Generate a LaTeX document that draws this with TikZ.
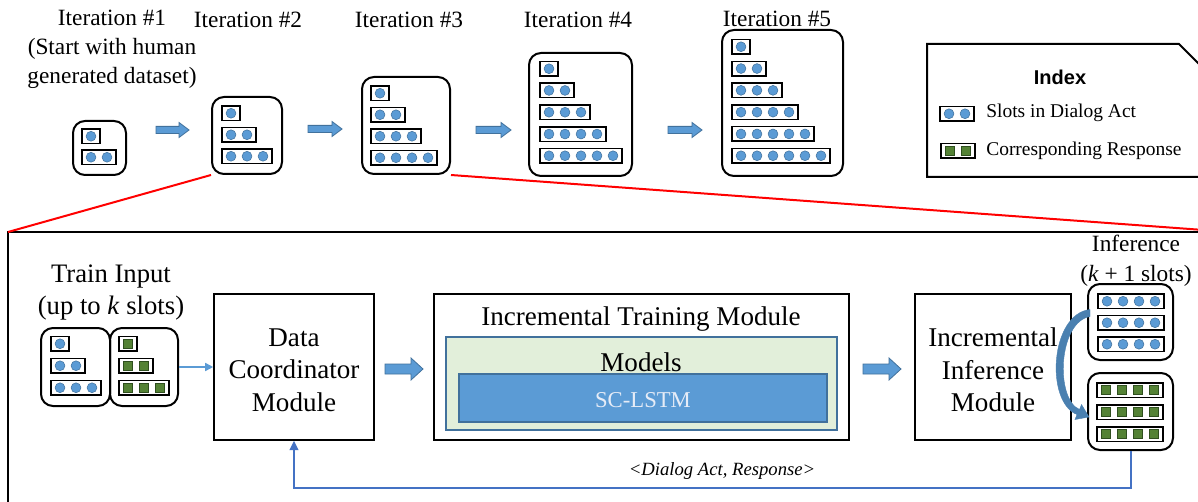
\documentclass[tikz,border=0pt]{standalone}
\usepackage{fontspec}
\setmainfont{Liberation Serif}
\newfontfamily\arialfont{Liberation Sans}
\usetikzlibrary{fit,arrows.meta,calc}

\definecolor{slotblue}{HTML}{5B9BD5}
\definecolor{slotedge}{HTML}{41719C}
\definecolor{respgreen}{HTML}{548235}
\definecolor{respedge}{HTML}{2F4F1F}
\definecolor{modelgreen}{HTML}{E2EFDA}
\definecolor{loopblue}{HTML}{4472C4}
\definecolor{sctext}{HTML}{E6ECF7}
\definecolor{zoomred}{HTML}{FF0000}

\tikzset{
  rbox/.style={draw=black, line width=1.5pt, rounded corners=9pt, inner sep=0pt},
  rowbox/.style={draw=black, line width=1.1pt},
  slotdot/.style={fill=slotblue, draw=slotedge, line width=0.4pt},
  slotsq/.style={fill=respgreen, draw=respedge, line width=0.4pt},
  modbox/.style={draw=black, line width=1.2pt, inner sep=0pt},
  blockarr/.style={fill=slotblue, draw=slotedge, line width=0.6pt},
  toplabel/.style={font=\fontsize{17.5}{21.8}\selectfont, inner sep=0pt, align=center},
  legtext/.style={font=\fontsize{14.6}{17}\selectfont, inner sep=0pt, anchor=west},
  bigtext/.style={font=\fontsize{20.3}{24.4}\selectfont, inner sep=0pt, align=center},
  zoomline/.style={draw=zoomred, line width=1.5pt},
  frameline/.style={draw=black, line width=1.5pt},
  thinarr/.style={draw=slotblue, line width=1.1pt, -{Triangle[length=6pt,width=6pt]}},
  loopline/.style={draw=loopblue, line width=1.5pt, -{Triangle[length=7pt,width=6.5pt]}},
  curvearr/.style={fill=slotedge!65!slotblue, draw=slotedge!65!slotblue, line width=0.3pt},
}

% a framed row of n blue slot dots, top-left corner at (x,y)
\newcommand\dotrow[3]{%
  \draw[rowbox] (#1,#2) rectangle ++({16*#3+2},14.5);
  \foreach \i in {1,...,#3}{\draw[slotdot] ({#1+9+16*(\i-1)},{#2+7.25}) circle[radius=3.7pt];}%
}
% a framed row of n green response squares
\newcommand\sqrow[3]{%
  \draw[rowbox] (#1,#2) rectangle ++({16*#3+2},14.5);
  \foreach \i in {1,...,#3}{\draw[slotsq] ({#1+9+16*(\i-1)-4.5},{#2+7.25-4.5}) rectangle ++(9,9);}%
}
% block arrow pointing right: x1, x2, y, shaft half, head half, head length
\newcommand\blkarrow[6]{%
  \filldraw[blockarr] ({#1},{#3-#4}) -- ({#2-#6},{#3-#4}) -- ({#2-#6},{#3-#5}) -- ({#2},{#3})
    -- ({#2-#6},{#3+#5}) -- ({#2-#6},{#3+#4}) -- ({#1},{#3+#4}) -- cycle;%
}

\begin{document}
\begin{tikzpicture}[x=0.75pt, y=-0.75pt]
\useasboundingbox (0,0) rectangle (1198,502);
\clip (0,0) rectangle (1198,502);
\fill[white] (0,0) rectangle (1198,502);

% ---------- iteration labels ----------
\node[toplabel] (lab1) at (112,49.5) {Iteration \#1\\(Start with human\\generated dataset)};
\node[toplabel] (lab2) at (248,20) {Iteration \#2};
\node[toplabel] (lab3) at (409,20) {Iteration \#3};
\node[toplabel] (lab4) at (578,20) {Iteration \#4};
\node[toplabel] (lab5) at (777,19) {Iteration \#5};

% ---------- iteration boxes ----------
\node[rbox, fit={(73,121) (126,175)}] (it1) {};
\dotrow{82}{129}{1}
\dotrow{82}{150}{2}

\node[rbox, fit={(212,97) (282,174)}] (it2) {};
\dotrow{222}{106}{1}
\dotrow{222}{127.5}{2}
\dotrow{222}{149}{3}

\node[rbox, fit={(362,77) (450,174)}] (it3) {};
\dotrow{371}{86}{1}
\dotrow{371}{107.5}{2}
\dotrow{371}{129}{3}
\dotrow{371}{150.5}{4}

\node[rbox, fit={(529,53) (632,176)}] (it4) {};
\dotrow{540}{61.5}{1}
\dotrow{540}{83.2}{2}
\dotrow{540}{105}{3}
\dotrow{540}{126.8}{4}
\dotrow{540}{148.5}{5}

\node[rbox, fit={(722,30) (843,176)}] (it5) {};
\dotrow{732}{39.5}{1}
\dotrow{732}{61.3}{2}
\dotrow{732}{83.1}{3}
\dotrow{732}{104.9}{4}
\dotrow{732}{126.7}{5}
\dotrow{732}{148.5}{6}

% arrows between iterations
\blkarrow{156}{189}{130}{3.6}{7.5}{10}
\blkarrow{308}{342}{129}{3.6}{7.5}{10}
\blkarrow{476}{511}{130}{3.6}{7.5}{10}
\blkarrow{668}{702}{130}{3.6}{7.5}{10}

% ---------- index box ----------
\draw[frameline] (927,44) -- (1179,44) -- (1245,110) -- (1245,177) -- (927,177) -- cycle;
\node[font=\arialfont\bfseries\fontsize{15}{18}\selectfont, inner sep=0pt] (idxtitle) at (1060,77) {Index};
\dotrow{940}{106.5}{2}
\node[legtext] (legslots) at (986,113) {Slots in Dialog Act};
\sqrow{941}{143.5}{2}
\node[legtext] (legresp) at (986,151) {Corresponding Response};

% ---------- system frame and zoom lines ----------
\coordinate (frameNW) at (8,232);
\coordinate (frameNE) at (1231,232);
\draw[frameline] (frameNW) rectangle (1231,540);
\draw[zoomline] (it2.south west) -- (frameNW);
\draw[zoomline] (it3.south east) -- (frameNE);

% ---------- training input ----------
\node[bigtext, font=\fontsize{20}{24}\selectfont] (trainlab) at (111,293) {Train Input\\(up to \textit{k} slots)};
\node[rbox, fit={(41,328) (110,406)}] (tiL) {};
\dotrow{51}{336.5}{1}
\dotrow{51}{358.5}{2}
\dotrow{51}{380.5}{3}
\node[rbox, fit={(110,328) (178,406)}] (tiR) {};
\sqrow{119}{336.5}{1}
\sqrow{119}{358.5}{2}
\sqrow{119}{380.5}{3}

% ---------- modules ----------
\node[modbox, fit={(214,294) (374,440)}] (dc) {};
\node[bigtext] (dctext) at ($(dc.center)+(0,3)$) {Data\\Coordinator\\Module};
\node[modbox, fit={(434,294) (849,440)}] (itm) {};
\node[bigtext] (itmlab) at (641,319) {Incremental Training Module};
\node[draw=slotedge, fill=modelgreen, line width=1pt, inner sep=0pt, fit={(446,337) (837,430)}] (models) {};
\node[bigtext] (modlab) at (641,362) {Models};
\node[draw=slotedge, fill=slotblue, line width=1pt, inner sep=0pt, fit={(459,374) (827,422)}] (sclstm) {};
\node[text=sctext, font=\fontsize{17}{20}\selectfont, inner sep=0pt] (sctxt) at ($(sclstm.center)+(0,2)$) {SC-LSTM};
\node[modbox, fit={(915,294) (1071,440)}] (iim) {};
\node[bigtext] (iimtext) at ($(iim.center)+(0,3)$) {Incremental\\Inference\\Module};

\draw[thinarr] (tiR.east) -- (dc.west);
\blkarrow{385}{423}{369}{5}{11}{12}
\blkarrow{863}{901}{369}{5}{11}{12}

% ---------- inference output ----------
\node[toplabel, font=\fontsize{17.5}{22.5}\selectfont] (inflab) at (1136,261) {Inference\\(\textit{k} + 1 slots)};
\node[rbox, fit={(1088,284) (1173,360)}] (infA) {};
\dotrow{1098}{294}{4}
\dotrow{1098}{315.5}{4}
\dotrow{1098}{337}{4}
\node[rbox, fit={(1088,373) (1173,450)}] (infB) {};
\sqrow{1097}{383}{4}
\sqrow{1097}{405}{4}
\sqrow{1097}{427}{4}

% tapered curved arrow from the dialog acts down to the responses
\coordinate (cvs) at (1090,313);
\coordinate (cve) at (1089,417);
\filldraw[curvearr] (1090,309.5) .. controls (1050,314) and (1045,402) .. (1077,414.5)
  -- (1075,419.5) -- (cve) -- (1081.5,404.5) -- (1079.5,409.5)
  .. controls (1055,399) and (1058,322) .. (1090,316.5) -- cycle;

% ---------- feedback loop ----------
\coordinate (fbcorner) at (294,488);
\draw[loopline] (infB.south) |- (fbcorner) -- (dc.south);
\node[font=\itshape\fontsize{14}{17}\selectfont, inner sep=0pt] (fblab) at (722,471) {<Dialog Act, Response>};
\end{tikzpicture}
\end{document}
